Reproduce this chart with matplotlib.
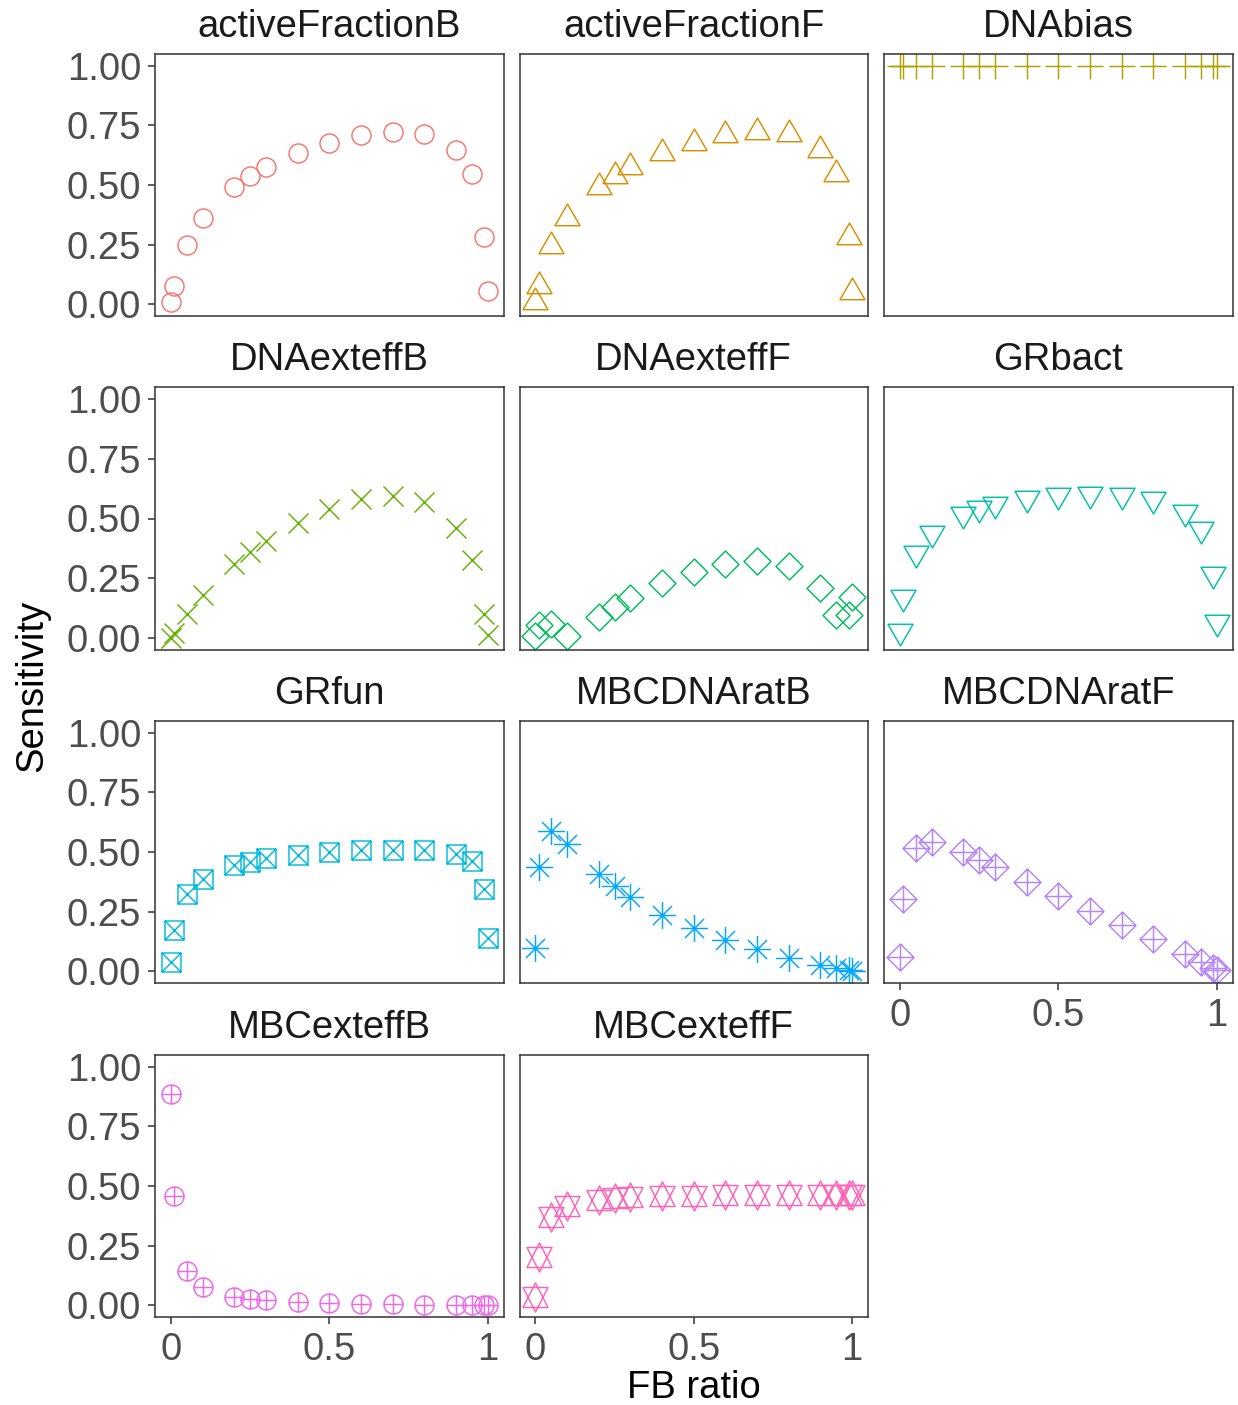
import numpy as np
import matplotlib
matplotlib.use("Agg")
import matplotlib.pyplot as plt
from matplotlib.path import Path

plt.rcParams['font.family'] = ['Liberation Sans', 'DejaVu Sans']

# x values shared by every panel
fb_ratio = [0, 0.01, 0.05, 0.1, 0.2, 0.25, 0.3, 0.4, 0.5, 0.6, 0.7, 0.8, 0.9, 0.95, 0.99, 1]

params = ['activeFractionB', 'activeFractionF', 'DNAbias',
          'DNAexteffB', 'DNAexteffF', 'GRbact',
          'GRfun', 'MBCDNAratB', 'MBCDNAratF',
          'MBCexteffB', 'MBCexteffF']

active_fraction_b = [0.007, 0.074, 0.246, 0.361, 0.492, 0.538, 0.575, 0.635, 0.678, 0.708, 0.723, 0.715, 0.649, 0.547, 0.28, 0.053]
active_fraction_f = [0.007, 0.076, 0.245, 0.361, 0.492, 0.538, 0.576, 0.635, 0.678, 0.709, 0.723, 0.715, 0.648, 0.547, 0.283, 0.052]
dna_bias = [1.0] * 16
dna_exteff_b = [0.0, 0.018, 0.098, 0.179, 0.307, 0.36, 0.405, 0.482, 0.54, 0.58, 0.594, 0.568, 0.461, 0.325, 0.098, 0.011]
dna_exteff_f = [0.008, 0.053, 0.057, 0.008, 0.088, 0.13, 0.168, 0.228, 0.277, 0.309, 0.32, 0.30, 0.207, 0.094, 0.096, 0.17]
gr_bact = [0.029, 0.17, 0.355, 0.44, 0.52, 0.542, 0.56, 0.585, 0.598, 0.603, 0.599, 0.581, 0.528, 0.455, 0.267, 0.064]
gr_fun = [0.038, 0.174, 0.325, 0.386, 0.445, 0.46, 0.473, 0.488, 0.499, 0.508, 0.509, 0.508, 0.491, 0.463, 0.344, 0.139]
mbc_dnarat_b = [0.098, 0.437, 0.59, 0.534, 0.409, 0.356, 0.311, 0.237, 0.179, 0.13, 0.091, 0.056, 0.025, 0.014, 0.004, 0.0]
mbc_dnarat_f = [0.06, 0.304, 0.516, 0.541, 0.499, 0.467, 0.437, 0.374, 0.314, 0.254, 0.195, 0.133, 0.07, 0.039, 0.014, 0.006]
mbc_exteff_b = [0.887, 0.457, 0.145, 0.077, 0.035, 0.025, 0.02, 0.013, 0.008, 0.006, 0.003, 0.001, 0.0, 0.0, 0.0, 0.0]
mbc_exteff_f = [0.032, 0.204, 0.371, 0.418, 0.442, 0.448, 0.452, 0.457, 0.46, 0.462, 0.463, 0.463, 0.463, 0.464, 0.464, 0.464]

series = [active_fraction_b, active_fraction_f, dna_bias,
          dna_exteff_b, dna_exteff_f, gr_bact,
          gr_fun, mbc_dnarat_b, mbc_dnarat_f,
          mbc_exteff_b, mbc_exteff_f]

colors = ["#F8766D", "#DB8E00", "#AEA200", "#64B200", "#00BD5C", "#00C1A7",
          "#00BADE", "#00A6FF", "#B385FF", "#EF67EB", "#FF63B6"]


# ---- marker shapes (R pch 1..11 lookalikes) ----
def segs(pairs):
    verts, codes = [], []
    for a, b in pairs:
        verts += [a, b]
        codes += [Path.MOVETO, Path.LINETO]
    return Path(verts, codes)


def polygon(pts):
    pts = list(pts)
    return Path(pts + [pts[0]], [Path.MOVETO] + [Path.LINETO] * (len(pts) - 1) + [Path.CLOSEPOLY])


s3 = np.sqrt(3) / 2
tri_up = polygon([(0, 1), (-s3, -0.5), (s3, -0.5)])
tri_down = polygon([(0, -1), (-s3, 0.5), (s3, 0.5)])
plus = segs([((-1, 0), (1, 0)), ((0, -1), (0, 1))])
cross = segs([((-1, -1), (1, 1)), ((-1, 1), (1, -1))])
diamond = polygon([(0, 1), (1, 0), (0, -1), (-1, 0)])
square = polygon([(-1, -1), (1, -1), (1, 1), (-1, 1)])
d = 0.707
asterisk = segs([((-1, 0), (1, 0)), ((0, -1), (0, 1)),
                 ((-d, -d), (d, d)), ((-d, d), (d, -d))])
circle = Path.unit_circle()
star_up = polygon([(0, 1), (-0.862, -0.69), (0.862, -0.69)])
star_down = polygon([(0, -1), (-0.862, 0.69), (0.862, 0.69)])

markers = [
    (circle, 13.7),
    (tri_up, 20.8),
    (plus, 19.4),
    (cross, 14.4),
    (diamond, 19.4),
    (tri_down, 20.8),
    (Path.make_compound_path(square, cross), 13.7),
    (asterisk, 19.4),
    (Path.make_compound_path(diamond, plus), 19.4),
    (Path.make_compound_path(circle, plus), 13.7),
    (Path.make_compound_path(star_up, star_down), 20.9),
]

# ---- layout ----
W, H = 1238, 1405
fig = plt.figure(figsize=(W / 100, H / 100), dpi=100)

col_left = [155, 519.5, 884]
row_top = [54, 387.5, 721, 1055]
pw, ph = 348.5, 262

tick_col = '#4D4D4D'
frame_col = '#333333'
bottom_panels = [8, 9, 10]
fs = 27.5

for i, name in enumerate(params):
    r, c = divmod(i, 3)
    ax = fig.add_axes([col_left[c] / W, 1 - (row_top[r] + ph) / H, pw / W, ph / H])
    path, ms = markers[i]
    ax.plot(fb_ratio, series[i], linestyle='none', marker=path, markersize=ms,
            markerfacecolor='none', markeredgecolor=colors[i], markeredgewidth=1.05)

    ax.set_xlim(-0.05, 1.05)
    ax.set_ylim(-0.05, 1.05)
    for sp in ax.spines.values():
        sp.set_color(frame_col)
        sp.set_linewidth(1.1)

    ax.set_yticks([0, 0.25, 0.5, 0.75, 1.0])
    ax.set_yticklabels(['0.00', '0.25', '0.50', '0.75', '1.00'])
    ax.set_xticks([0, 0.5, 1])
    ax.set_xticklabels(['0', '0.5', '1'])
    ax.tick_params(length=5, width=1.1, color=frame_col, labelcolor=tick_col,
                   labelsize=fs)
    ax.tick_params(axis='y', pad=5)
    ax.tick_params(axis='x', pad=6)
    if c != 0:
        ax.tick_params(left=False, labelleft=False)
    if i not in bottom_panels:
        ax.tick_params(bottom=False, labelbottom=False)

    ax.text(0.5, 1 + 27 / ph, name, transform=ax.transAxes, ha='center', va='center',
            fontsize=fs, color='#1A1A1A')

fig.text(32 / W, 1 - 686 / H, 'Sensitivity', rotation=90, ha='center', va='center',
         fontsize=fs, color='black')
fig.text(694 / W, 1 - 1388 / H, 'FB ratio', ha='center', va='center',
         fontsize=fs, color='black')

fig.savefig('out.png', dpi=100)
